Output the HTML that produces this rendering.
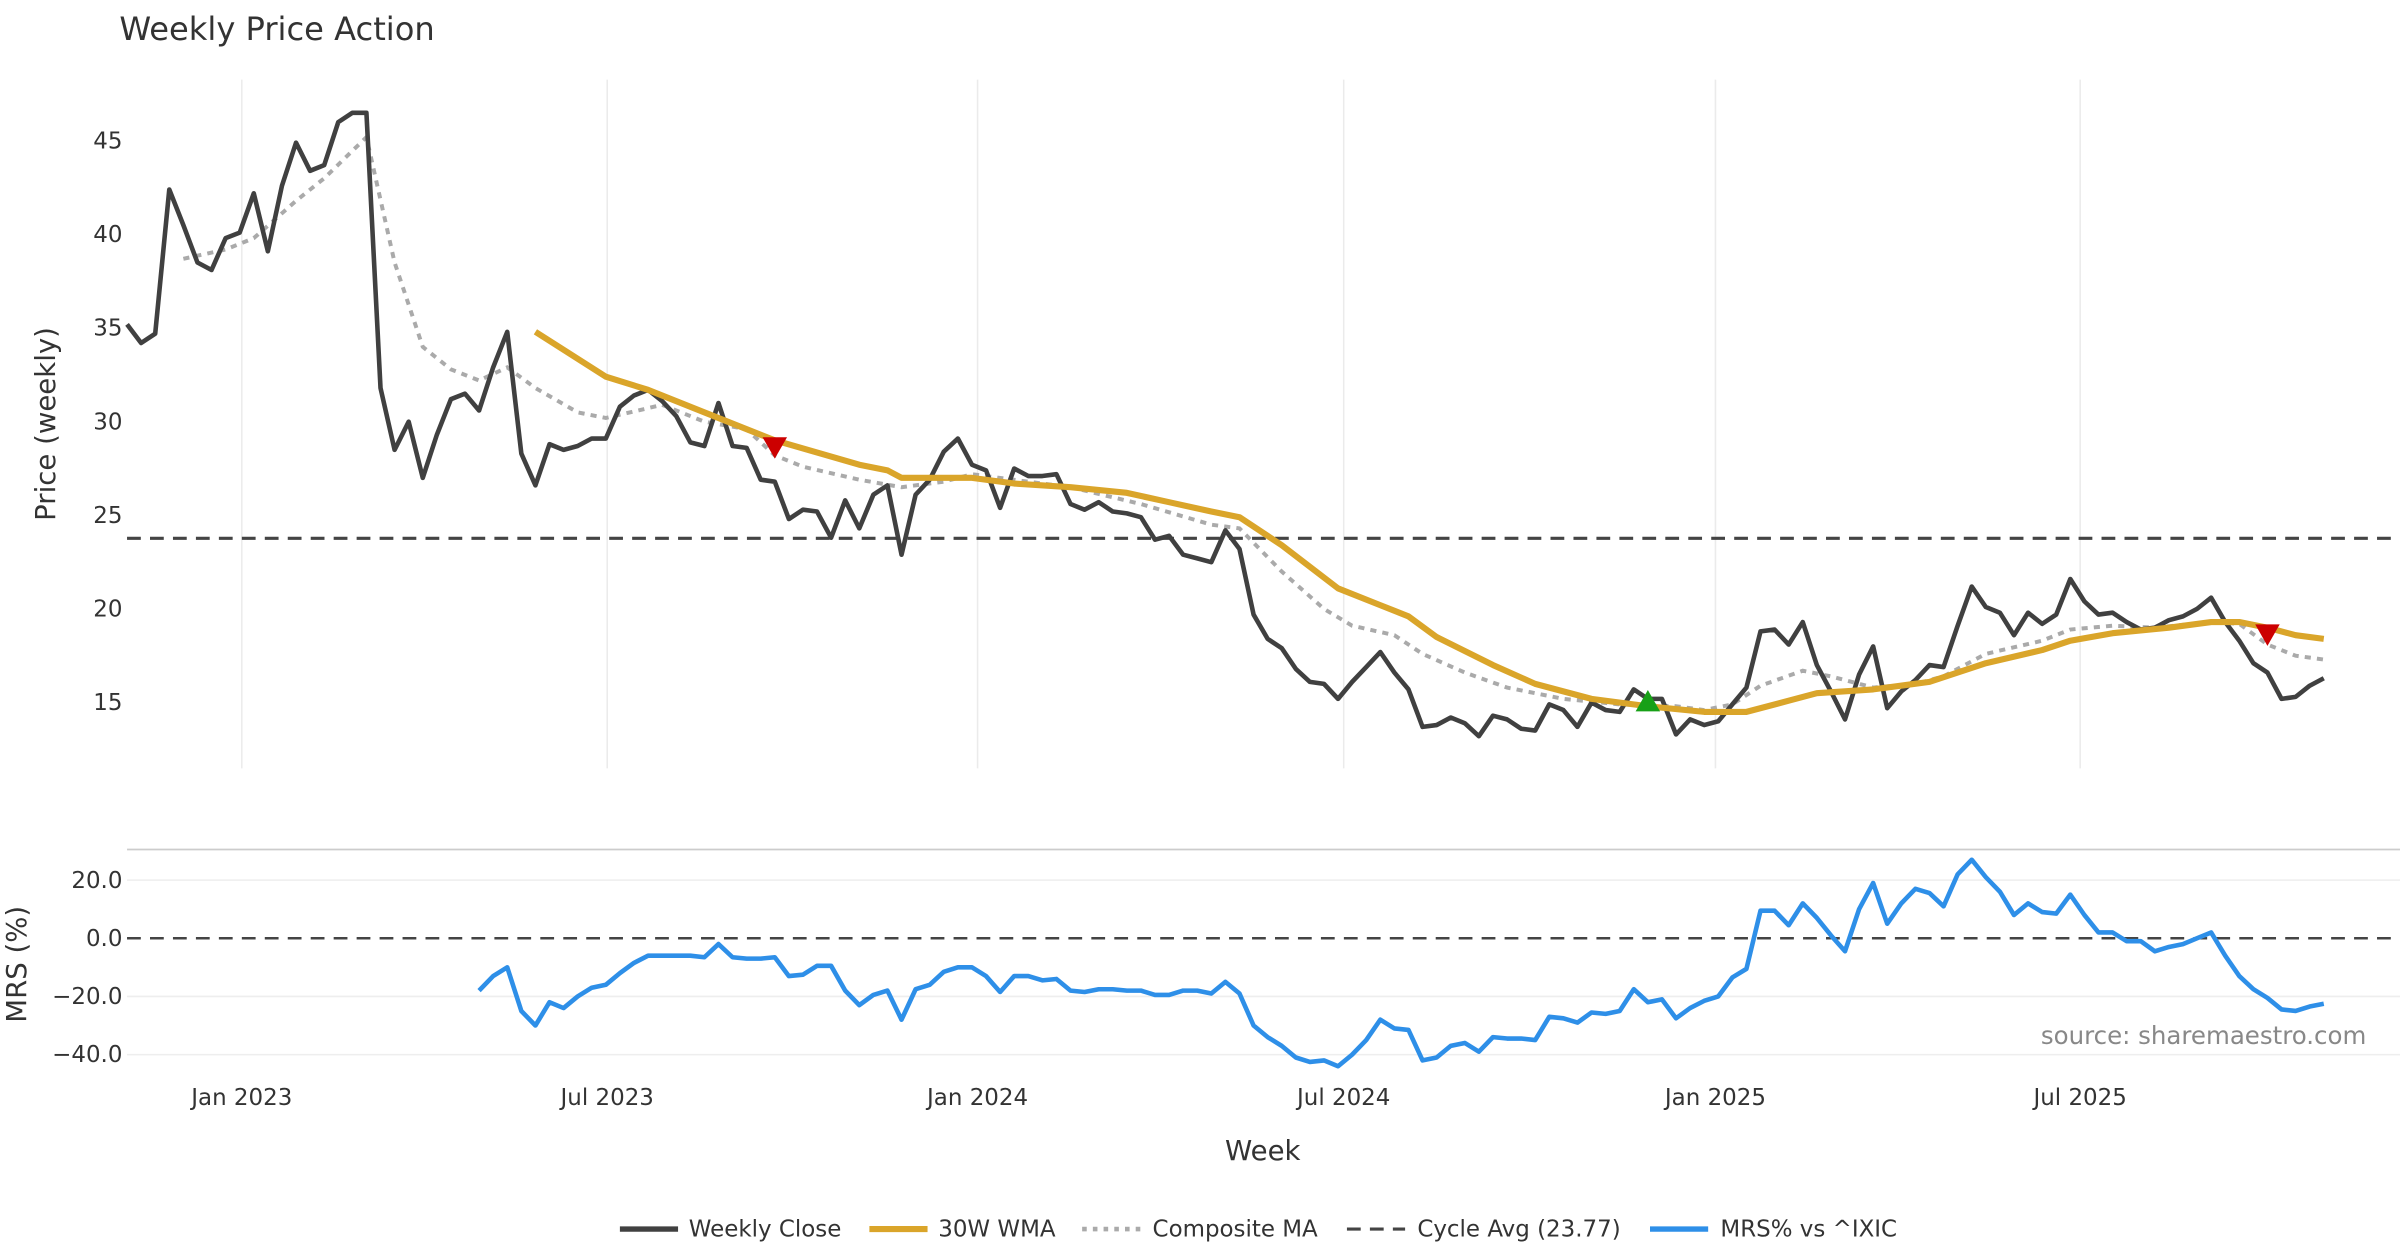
<!DOCTYPE html>
<html><head><meta charset="utf-8"><style>
html,body{margin:0;padding:0;background:#fff;}
svg{display:block;font-family:"DejaVu Sans","Liberation Sans",sans-serif;}
</style></head><body>
<svg id="chart" xmlns="http://www.w3.org/2000/svg" width="2400" height="1260" viewBox="0 0 1568 823.2">
<rect width="1568" height="823.2" fill="#fff"/>
<text x="78" y="26" font-size="21" fill="#333">Weekly Price Action</text>
<g id="grid"></g>
<g id="price"></g>
<g id="mrs"></g>
<g id="axes"></g>
<text transform="translate(36,277) rotate(-90)" text-anchor="middle" font-size="18" fill="#333">Price (weekly)</text>
<text transform="translate(17,630) rotate(-90)" text-anchor="middle" font-size="18" fill="#333">MRS (%)</text>
<text x="825" y="758" text-anchor="middle" font-size="18" fill="#333">Week</text>
<text x="1546" y="682" text-anchor="end" font-size="16" fill="#888">source: sharemaestro.com</text>
<g font-size="15" fill="#333">
<g><line x1="405" y1="803" x2="443" y2="803" stroke="#404040" stroke-width="3.5"/><text x="450" y="808">Weekly Close</text></g>
<g><line x1="568" y1="803" x2="606" y2="803" stroke="#DAA52A" stroke-width="4"/><text x="613" y="808">30W WMA</text></g>
<g><line x1="707" y1="803" x2="745" y2="803" stroke="#aaa" stroke-width="3" stroke-dasharray="3,4"/><text x="753" y="808">Composite MA</text></g>
<g><line x1="880" y1="803" x2="918" y2="803" stroke="#444" stroke-width="2" stroke-dasharray="9,6"/><text x="926" y="808">Cycle Avg (23.77)</text></g>
<g><line x1="1078" y1="803" x2="1116" y2="803" stroke="#2e8fe8" stroke-width="3.5"/><text x="1124" y="808">MRS% vs ^IXIC</text></g>
</g>
</svg>
<script>
const closes=[35.2,34.2,34.7,42.4,40.5,38.5,38.1,39.8,40.1,42.2,39.1,42.6,44.9,43.4,43.7,46.0,46.5,46.5,31.8,28.5,30.0,27.0,29.3,31.2,31.5,30.6,32.9,34.8,28.3,26.6,28.8,28.5,28.7,29.1,29.1,30.8,31.4,31.7,31.1,30.3,28.9,28.7,31.0,28.7,28.6,26.9,26.8,24.8,25.3,25.2,23.8,25.8,24.3,26.1,26.6,22.9,26.1,26.9,28.4,29.1,27.7,27.4,25.4,27.5,27.1,27.1,27.2,25.6,25.3,25.7,25.2,25.1,24.9,23.7,23.9,22.9,22.7,22.5,24.2,23.2,19.7,18.4,17.9,16.8,16.1,16.0,15.2,16.1,16.9,17.7,16.6,15.7,13.7,13.8,14.2,13.9,13.2,14.3,14.1,13.6,13.5,14.9,14.6,13.7,15.0,14.6,14.5,15.7,15.2,15.2,13.3,14.1,13.8,14.0,14.9,15.8,18.8,18.9,18.1,19.3,17.0,15.6,14.1,16.5,18.0,14.7,15.6,16.2,17.0,16.9,19.1,21.2,20.1,19.8,18.6,19.8,19.2,19.7,21.6,20.4,19.7,19.8,19.3,18.9,19.0,19.4,19.6,20.0,20.6,19.3,18.3,17.1,16.6,15.2,15.3,15.9,16.3];
const wmaWeek=[29,34,37,41,46,52,54,55,60,63,67,71,74,77,79,82,86,89,91,93,97,100,104,108,112,115,118,120,124,128,132,136,138,141,145,148,150,152,154,156];
const wmaVal=[34.8,32.4,31.7,30.5,29.0,27.7,27.4,27.0,27.0,26.7,26.5,26.2,25.7,25.2,24.9,23.4,21.1,20.2,19.6,18.5,17.0,16.0,15.2,14.8,14.5,14.5,15.1,15.5,15.7,16.1,17.1,17.8,18.3,18.7,19.0,19.3,19.3,19.0,18.6,18.4];
const compWeek=[4,7,9,12,14,17,19,21,23,25,27,29,32,34,38,41,44,46,48,52,55,58,60,64,67,72,77,79,82,85,87,90,92,95,98,102,106,110,112,114,116,119,121,124,127,129,132,136,138,141,144,148,150,152,154,156];
const compVal=[38.7,39.2,39.8,41.8,43.0,45.2,38.5,34.0,32.8,32.2,32.9,31.8,30.5,30.2,30.9,30.0,29.6,28.2,27.6,26.9,26.5,26.8,27.2,26.8,26.5,25.6,24.5,24.3,22.0,20.0,19.1,18.6,17.6,16.6,15.8,15.2,14.9,14.8,14.6,14.9,15.9,16.7,16.4,15.8,16.0,16.4,17.6,18.3,18.9,19.1,19.0,19.3,19.2,18.1,17.5,17.3];
const mrsStart=25;
const mrsVals=[-18,-13,-10,-25,-30,-22,-24,-20,-17,-16,-12,-8.5,-6,-6,-6,-6,-6.5,-2,-6.5,-7,-7,-6.5,-13,-12.5,-9.5,-9.5,-18,-23,-19.5,-18,-28,-17.5,-16,-11.5,-10,-10,-13,-18.5,-13,-13,-14.5,-14,-18,-18.5,-17.5,-17.5,-18,-18,-19.5,-19.5,-18,-18,-19,-15,-19,-30,-34,-37,-41,-42.5,-42,-44,-40,-35,-28,-31,-31.5,-42,-41,-37,-36,-39,-34,-34.5,-34.5,-35,-27,-27.5,-29,-25.5,-26,-25,-17.5,-22,-21,-27.5,-24,-21.5,-20,-13.5,-10.5,9.5,9.5,4.5,12,7,1,-4.5,10,19,5,12,17,15.5,11,22,27,21,16,8,12,9,8.5,15,8,2,2,-1,-1,-4.5,-3,-2,0,2,-6,-13,-17.5,-20.5,-24.5,-25,-23.5,-22.5];
const cycleAvg=23.77;
const priceTicks=[15,20,25,30,35,40,45];
const mrsTicks=[20,0,-20,-40];
const mrsTickLabels=["20.0","0.0","\u221220.0","\u221240.0"];
const dateTickWeeks=[8.15,34.1,60.4,86.4,112.8,138.7];
const dateTickLabels=["Jan 2023","Jul 2023","Jan 2024","Jul 2024","Jan 2025","Jul 2025"];
const sellWeeks=[46,152];
const sellVals=[28.6,18.6];
const buyWeeks=[108];
const buyVals=[15.1];

const NS="http://www.w3.org/2000/svg";
const X=i=>83+i*9.2;
const Y=v=>459-(v-15)*12.233;
const YM=v=>613-v*1.9;
function mk(tag,attrs,parent){const e=document.createElementNS(NS,tag);for(const k in attrs)e.setAttribute(k,attrs[k]);document.getElementById(parent).appendChild(e);return e;}
function pathFrom(xs,ys){return xs.map((x,i)=>(i?'L':'M')+x.toFixed(1)+','+ys[i].toFixed(1)).join('');}

dateTickWeeks.forEach((w,i)=>{
 let g=mk('line',{x1:X(w),x2:X(w),y1:52,y2:502,stroke:'#ebebeb','stroke-width':1},'grid');
 
 
 let t=mk('text',{x:X(w),y:722,'text-anchor':'middle','font-size':15,fill:'#333'},'axes');
 t.textContent=dateTickLabels[i];
 
 
});
priceTicks.forEach(v=>{
 let t=mk('text',{x:80,y:Y(v)+5,'text-anchor':'end','font-size':15,fill:'#333'},'axes');
 t.textContent=v;
 
 
});
let bl=mk('line',{x1:83,x2:1568,y1:555,y2:555,stroke:'#ccc','stroke-width':1.2},'grid');


mrsTicks.forEach((v,i)=>{
 let l=mk('line',{x1:83,x2:1568,y1:YM(v),y2:YM(v),stroke:v===0?'#444':'#eee','stroke-width':v===0?1.6:1,'stroke-dasharray':v===0?'9,6':'none'},'grid');
 
 
 let t=mk('text',{x:80,y:YM(v)+5,'text-anchor':'end','font-size':15,fill:'#333'},'axes');
 t.textContent=mrsTickLabels[i];
 
 
});
let ca=mk('line',{x1:83,x2:1568,y1:Y(cycleAvg),y2:Y(cycleAvg),stroke:'#444','stroke-width':2,'stroke-dasharray':'9,6'},'price');


let cp=mk('path',{d:pathFrom(compWeek.map(X),compVal.map(Y)),fill:'none',stroke:'#aaa','stroke-width':2.6,'stroke-dasharray':'4,4'},'price');


let cl=mk('path',{d:pathFrom(closes.map((v,i)=>X(i)),closes.map(Y)),fill:'none',stroke:'#404040','stroke-width':3,'stroke-linejoin':'round'},'price');


let wm=mk('path',{d:pathFrom(wmaWeek.map(X),wmaVal.map(Y)),fill:'none',stroke:'#DAA52A','stroke-width':4,'stroke-linejoin':'round'},'price');


sellWeeks.forEach((w,i)=>{
 const x=X(w),y=Y(sellVals[i]);
 let m=mk('path',{d:`M${x-8},${y-7}L${x+8},${y-7}L${x},${y+7}Z`,fill:'#cc0000'},'price');
 
 
});
buyWeeks.forEach((w,i)=>{
 const x=X(w),y=Y(buyVals[i]);
 let m=mk('path',{d:`M${x-8},${y+7}L${x+8},${y+7}L${x},${y-7}Z`,fill:'#17a017'},'price');
 
 
});
let mr=mk('path',{d:pathFrom(mrsVals.map((v,i)=>X(mrsStart+i)),mrsVals.map(YM)),fill:'none',stroke:'#2e8fe8','stroke-width':3,'stroke-linejoin':'round'},'mrs');


</script>
</body></html>
